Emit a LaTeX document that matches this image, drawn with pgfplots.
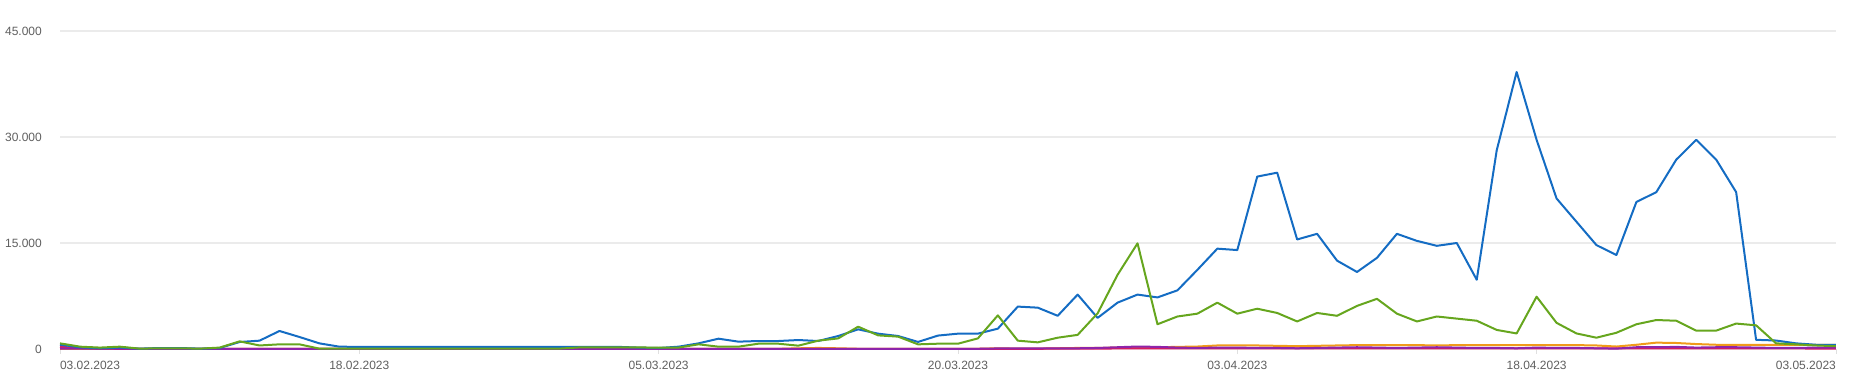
\documentclass[border=0pt]{standalone}
\usepackage{fontspec}
\setmainfont{Liberation Sans}
\usepackage{pgfplots}
\usepackage{pgfplotstable}
\pgfplotsset{compat=1.18}
\definecolor{cblue}{HTML}{146CC3}
\definecolor{cgreen}{HTML}{66A61E}
\definecolor{corange}{HTML}{F09A1A}
\definecolor{cpurple}{HTML}{8E24AA}
\definecolor{cpink}{HTML}{D81B60}
\definecolor{cgrid}{HTML}{EBEBEB}
\definecolor{clabel}{HTML}{5F5F5F}
\pgfplotstableread{
d blue green orange purple pink
0 0.6 0.8 0.02 0.05 0.3
1 0.24 0.33 0.02 0.05 0.15
2 0.1 0.2 0.02 0.05 0.05
3 0.2 0.33 0.02 0.04 0.03
4 0.05 0.05 0.02 0.03 0.02
5 0.14 0.1 0.02 0.03 0.02
6 0.14 0.1 0.02 0.03 0.02
7 0.05 0.05 0.02 0.03 0.02
8 0.14 0.2 0.02 0.03 0.02
9 0.99 1.08 0.02 0.03 0.02
10 1.18 0.5 0.02 0.03 0.02
11 2.55 0.66 0.02 0.03 0.02
12 1.7 0.66 0.02 0.03 0.02
13 0.8 0.05 0.02 0.03 0.02
14 0.33 0.05 0.02 0.03 0.02
15 0.3 0.05 0.02 0.03 0.02
16 0.3 0.05 0.02 0.03 0.02
17 0.3 0.05 0.02 0.03 0.02
18 0.3 0.05 0.02 0.03 0.02
19 0.3 0.05 0.02 0.03 0.02
20 0.3 0.05 0.02 0.03 0.02
21 0.3 0.05 0.02 0.03 0.02
22 0.3 0.05 0.02 0.03 0.02
23 0.3 0.05 0.02 0.03 0.02
24 0.3 0.05 0.02 0.03 0.02
25 0.3 0.05 0.02 0.03 0.02
26 0.3 0.22 0.02 0.03 0.02
27 0.3 0.22 0.02 0.03 0.02
28 0.3 0.22 0.02 0.03 0.02
29 0.2 0.22 0.02 0.03 0.02
30 0.14 0.2 0.02 0.03 0.02
31 0.33 0.2 0.02 0.03 0.02
32 0.8 0.66 0.02 0.03 0.02
33 1.46 0.33 0.02 0.03 0.02
34 1.04 0.33 0.02 0.03 0.02
35 1.13 0.75 0.02 0.03 0.02
36 1.13 0.75 0.02 0.03 0.02
37 1.27 0.47 0.1 0.03 0.02
38 1.13 1.18 0.15 0.03 0.02
39 1.84 1.5 0.1 0.03 0.02
40 2.78 3.16 0.03 0.03 0.02
41 2.17 1.93 0.03 0.03 0.02
42 1.84 1.75 0.03 0.03 0.02
43 1.0 0.66 0.03 0.03 0.02
44 1.9 0.75 0.03 0.03 0.02
45 2.17 0.75 0.03 0.03 0.02
46 2.17 1.5 0.03 0.03 0.02
47 2.88 4.76 0.1 0.08 0.03
48 6.0 1.18 0.05 0.08 0.03
49 5.85 0.94 0.05 0.08 0.03
50 4.7 1.6 0.1 0.08 0.05
51 7.7 2.0 0.15 0.1 0.05
52 4.4 5.05 0.15 0.15 0.05
53 6.56 10.5 0.2 0.25 0.08
54 7.7 14.95 0.2 0.35 0.08
55 7.3 3.5 0.25 0.3 0.08
56 8.3 4.6 0.3 0.2 0.08
57 11.2 5.0 0.35 0.15 0.1
58 14.2 6.56 0.5 0.2 0.1
59 14.0 5.0 0.5 0.2 0.1
60 24.4 5.7 0.5 0.15 0.1
61 24.95 5.1 0.45 0.15 0.1
62 15.5 3.9 0.4 0.1 0.1
63 16.3 5.1 0.45 0.15 0.1
64 12.5 4.7 0.5 0.2 0.1
65 10.9 6.1 0.55 0.25 0.1
66 12.9 7.1 0.55 0.2 0.1
67 16.3 5.0 0.55 0.15 0.1
68 15.3 3.9 0.55 0.2 0.1
69 14.6 4.6 0.5 0.25 0.1
70 15.0 4.3 0.55 0.2 0.1
71 9.8 4.0 0.55 0.15 0.1
72 28.1 2.7 0.55 0.15 0.1
73 39.2 2.2 0.55 0.1 0.1
74 29.6 7.4 0.55 0.2 0.1
75 21.3 3.7 0.55 0.15 0.1
76 18.0 2.2 0.55 0.15 0.1
77 14.7 1.6 0.5 0.1 0.08
78 13.3 2.3 0.35 0.05 0.08
79 20.8 3.5 0.6 0.25 0.1
80 22.2 4.1 0.9 0.25 0.1
81 26.8 4.0 0.85 0.3 0.1
82 29.6 2.6 0.7 0.2 0.1
83 26.8 2.6 0.6 0.25 0.1
84 22.2 3.6 0.6 0.25 0.1
85 1.3 3.35 0.57 0.2 0.1
86 1.2 0.8 0.57 0.15 0.08
87 0.8 0.66 0.57 0.15 0.08
88 0.6 0.5 0.57 0.2 0.06
89 0.6 0.4 0.57 0.2 0.06
}\datatable
\begin{document}
\begin{tikzpicture}
\path[use as bounding box] (0,0) rectangle (1849pt,383pt);
\begin{axis}[
  at={(60pt,34pt)}, anchor=south west,
  scale only axis,
  width=1776pt, height=318pt,
  xmin=0, xmax=89, ymin=0, ymax=45,
  axis line style={draw=none},
  ymajorgrids=true,
  major grid style={draw=cgrid, line width=1.5pt},
  ytick={0,15,30,45},
  yticklabels={0,15.000,30.000,45.000},
  ytick style={draw=none},
  xtick={0,15,30,45,59,74,89},
  xticklabels={\makebox[0pt][l]{03.02.2023},18.02.2023,05.03.2023,20.03.2023,03.04.2023,18.04.2023,\makebox[0pt][r]{03.05.2023}},
  xtick pos=bottom,
  ytick pos=left,
  tick align=outside,
  major tick length=5pt,
  xtick style={draw=black!12, line width=0.8pt},
  x tick label style={font=\fontsize{12}{14}\selectfont, text=clabel, anchor=north, inner sep=0pt, yshift=-7pt},
  y tick label style={font=\fontsize{12}{14}\selectfont, text=clabel, anchor=east, inner sep=0pt, xshift=-13pt},
  clip=false,
  every axis plot/.append style={line width=2pt, line join=round, no markers},
]
\addplot[corange] table[x=d, y=orange] {\datatable};
\addplot[cpink] table[x=d, y=pink] {\datatable};
\addplot[cpurple] table[x=d, y=purple] {\datatable};
\addplot[cblue] table[x=d, y=blue] {\datatable};
\addplot[cgreen] table[x=d, y=green] {\datatable};
\end{axis}
\end{tikzpicture}
\end{document}
